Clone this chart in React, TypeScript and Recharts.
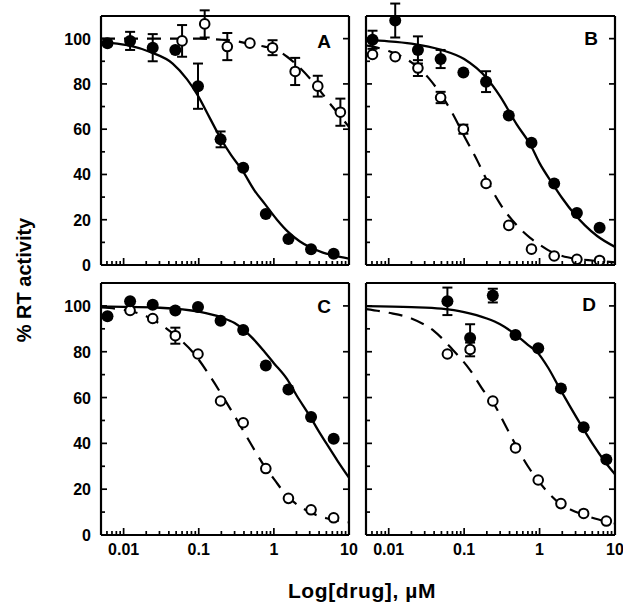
import { ComposedChart, ErrorBar, Line, Scatter, XAxis, YAxis } from "recharts";

// doses (µM), twofold dilutions
const DOSE_11 = [0.0061, 0.0122, 0.0244, 0.0488, 0.0977, 0.1953, 0.3906, 0.7813, 1.5625, 3.125, 6.25];
const DOSE_8 = [0.06, 0.12, 0.24, 0.48, 0.96, 1.92, 3.84, 7.68];
const DOSE_C_OPEN = [0.0122, 0.0244, 0.0488, 0.0977, 0.1953, 0.3906, 0.7813, 1.5625, 3.125, 6.25];

// panel A
const A_FILLED = [98, 99, 96, 95, 79, 55.5, 43, 22.5, 11.5, 7, 5];
const A_FILLED_ERR = [null, 4, 6, null, 10, 3.5, null, null, null, null, null];
const A_OPEN = [99, 106.5, 96.5, 98, 96, 85.5, 79, 67.5];
const A_OPEN_ERR = [7, 6, 6, null, 3.3, 6, 4.6, 6];
const A_SOLID_X = [0.005, 0.0117, 0.023, 0.045, 0.07, 0.094, 0.14, 0.188, 0.27, 0.377, 0.55, 0.757, 1.1, 1.56, 2.2, 3.04, 4.5, 6.27, 10];
const A_SOLID_Y = [98.5, 97, 94, 89, 82, 75.7, 65, 57, 48.5, 42, 33, 27, 20, 14.5, 10.5, 7.8, 5.5, 4.3, 2.8];
const A_DASH_X = [0.005, 0.05, 0.1, 0.2, 0.3, 0.5, 0.75, 1, 1.5, 2, 3, 4, 6, 8, 10];
const A_DASH_Y = [100, 100, 100, 99.5, 99, 97.5, 96.5, 95.5, 92, 88.5, 82.5, 77.5, 70, 65, 61];

// panel B
const B_FILLED = [99.5, 108, 95, 91, 85, 81, 66, 54, 36, 23, 16.5];
const B_FILLED_ERR = [4, 7.5, 6, 4, null, 4.6, null, null, null, null, null];
const B_OPEN = [93, 92, 87, 74, 60, 36, 17.5, 7, 4, 2.5, 2];
const B_OPEN_ERR = [null, null, 3.5, 2.5, 2, null, null, null, null, null, null];
const B_SOLID_X = [0.005, 0.01, 0.02, 0.05, 0.1, 0.2, 0.3, 0.5, 0.76, 1, 1.48, 2, 2.9, 4, 5.8, 10];
const B_SOLID_Y = [99.3, 98.8, 97.8, 95, 91, 82.5, 74.5, 62, 53, 45, 36, 29.5, 22.5, 17.5, 12.8, 8];
const B_DASH_X = [0.005, 0.01, 0.02, 0.035, 0.05, 0.07, 0.1, 0.15, 0.2, 0.3, 0.5, 0.75, 1, 1.5, 2, 3, 5, 10];
const B_DASH_Y = [97, 94.5, 89.5, 82, 75, 67, 57, 46, 37.5, 27, 17.5, 12, 9, 5.5, 4, 2.8, 2, 1.2];

// panel C
const C_FILLED = [95.5, 102, 100.5, 98, 99.5, 93.5, 89.5, 74, 63.5, 51.5, 42];
const C_OPEN = [98, 94.5, 87, 79, 58.5, 49, 29, 16, 11, 7.5];
const C_OPEN_ERR = [null, null, 3.5, null, null, null, null, null, null, null];
const C_SOLID_X = [0.005, 0.01, 0.03, 0.1, 0.2, 0.3, 0.5, 0.75, 1, 1.5, 2, 3, 4, 5, 7, 10];
const C_SOLID_Y = [99.7, 99.6, 99.2, 97.5, 95, 92.5, 86.5, 80, 75, 68, 61, 52, 45, 40, 32.5, 25];
const C_DASH_X = [0.005, 0.01, 0.02, 0.045, 0.09, 0.15, 0.2, 0.3, 0.5, 0.75, 1, 1.5, 2, 3, 5, 7, 10];
const C_DASH_Y = [99.3, 98.3, 95.5, 88, 78.5, 68, 61.5, 52, 39.5, 30, 24.5, 17, 13.5, 10, 7.3, 6.3, 5.5];

// panel D
const D_FILLED = [102, 86, 104.5, 87.3, 81.5, 64, 47, 33];
const D_FILLED_ERR = [6, 6, 3, null, null, null, null, null];
const D_OPEN = [79, 81, 58.5, 38, 24, 13.7, 9.4, 6.1];
const D_OPEN_ERR = [null, 3, null, null, null, null, null, null];
const D_SOLID_X = [0.005, 0.02, 0.05, 0.1, 0.2, 0.3, 0.48, 0.7, 0.92, 1.3, 1.81, 2.6, 3.7, 5, 7.36, 10];
const D_SOLID_Y = [99.9, 99.5, 98.8, 97.3, 94.5, 92, 87.5, 83, 80, 73, 64.5, 55.5, 47, 40, 32, 26.5];
const D_DASH_X = [0.005, 0.01, 0.02, 0.04, 0.07, 0.12, 0.19, 0.234, 0.35, 0.47, 0.7, 0.92, 1.3, 1.81, 2.6, 3.7, 5, 7.36, 10];
const D_DASH_Y = [98.6, 97, 94.5, 89, 81, 72, 62, 58.5, 48, 40, 30, 24.5, 18.5, 14, 11, 9, 7.5, 6, 5];

// axes
const X_MAJOR = [0.01, 0.1, 1, 10];
const X_MINOR = [
  0.006, 0.007, 0.008, 0.009,
  0.02, 0.03, 0.04, 0.05, 0.06, 0.07, 0.08, 0.09,
  0.2, 0.3, 0.4, 0.5, 0.6, 0.7, 0.8, 0.9,
  2, 3, 4, 5, 6, 7, 8, 9,
];
const Y_MAJOR = [0, 20, 40, 60, 80, 100];
const Y_MINOR = [10, 30, 50, 70, 90];

const FONT = "'Liberation Sans', Arial, Helvetica, sans-serif";

type Pt = { x: number; y: number; e?: number };

const toPoints = (xs: number[], ys: number[], errs?: (number | null)[]): Pt[] =>
  xs.map((x, i) => {
    const e = errs ? errs[i] : null;
    return e == null ? { x, y: ys[i] } : { x, y: ys[i], e };
  });

const FilledDot = (p: any) => <circle cx={p.cx} cy={p.cy} r={6} fill="#000" />;
const OpenDot = (p: any) => (
  <circle cx={p.cx} cy={p.cy} r={4.8} fill="#fff" stroke="#000" strokeWidth={2} />
);

const tickStroke = { stroke: "#000", strokeWidth: 1.7 };

const BottomTick = ({ x, y, payload, showLabels }: any) => {
  const major = X_MAJOR.includes(payload.value);
  return (
    <g>
      <line x1={x} x2={x} y1={y} y2={y - (major ? 7 : 4)} {...tickStroke} />
      {showLabels && major && (
        <text x={x} y={y + 20} textAnchor="middle" fontFamily={FONT} fontWeight="bold" fontSize={16} fill="#000">
          {payload.value}
        </text>
      )}
    </g>
  );
};

const TopTick = ({ x, y }: any) => <line x1={x} x2={x} y1={y} y2={y + 7} {...tickStroke} />;

const LeftTick = ({ x, y, payload, showLabels }: any) => {
  const major = Y_MAJOR.includes(payload.value);
  return (
    <g>
      <line x1={x} x2={x + (major ? 6 : 4)} y1={y} y2={y} {...tickStroke} />
      {showLabels && major && (
        <text x={x - 10} y={y + 6} textAnchor="end" fontFamily={FONT} fontWeight="bold" fontSize={16} fill="#000">
          {payload.value}
        </text>
      )}
    </g>
  );
};

const RightTick = ({ x, y }: any) => <line x1={x} x2={x - 6} y1={y} y2={y} {...tickStroke} />;

const frame = { stroke: "#000", strokeWidth: 2.2 };

interface PanelProps {
  plotX: number;
  plotY: number;
  plotW: number;
  plotH: number;
  filled: Pt[];
  open: Pt[];
  solid: Pt[];
  dashed: Pt[];
  xLabels: boolean;
  yLabels: boolean;
}

function Panel({ plotX, plotY, plotW, plotH, filled, open, solid, dashed, xLabels, yLabels }: PanelProps) {
  return (
    <div style={{ position: "absolute", left: plotX - 50, top: plotY - 15 }}>
      <ComposedChart
        width={plotW + 65}
        height={plotH + 55}
        margin={{ top: 5, right: 5, bottom: 10, left: 10 }}
      >
        <XAxis
          xAxisId="main"
          dataKey="x"
          type="number"
          scale="log"
          domain={[0.005, 10]}
          allowDataOverflow
          ticks={[...X_MAJOR, ...X_MINOR]}
          interval={0}
          height={30}
          tickLine={false}
          tickSize={0}
          tickMargin={0}
          axisLine={frame}
          tick={(p: any) => <BottomTick {...p} showLabels={xLabels} />}
        />
        <XAxis
          xAxisId="top"
          orientation="top"
          type="number"
          scale="log"
          domain={[0.005, 10]}
          allowDataOverflow
          ticks={[0.01, 0.1, 1]}
          interval={0}
          height={10}
          tickLine={false}
          tickSize={0}
          tickMargin={0}
          axisLine={frame}
          tick={(p: any) => <TopTick {...p} />}
        />
        <YAxis
          yAxisId="main"
          dataKey="y"
          type="number"
          domain={[0, 110]}
          allowDataOverflow
          ticks={[...Y_MAJOR, ...Y_MINOR]}
          interval={0}
          width={40}
          tickLine={false}
          tickSize={0}
          tickMargin={0}
          axisLine={frame}
          tick={(p: any) => <LeftTick {...p} showLabels={yLabels} />}
        />
        <YAxis
          yAxisId="right"
          orientation="right"
          type="number"
          domain={[0, 110]}
          allowDataOverflow
          ticks={Y_MAJOR}
          interval={0}
          width={10}
          tickLine={false}
          tickSize={0}
          tickMargin={0}
          axisLine={frame}
          tick={(p: any) => <RightTick {...p} />}
        />
        <Line
          xAxisId="main"
          yAxisId="main"
          data={dashed}
          dataKey="y"
          type="monotone"
          stroke="#000"
          strokeWidth={2.2}
          strokeDasharray="14 9"
          dot={false}
          isAnimationActive={false}
        />
        <Line
          xAxisId="main"
          yAxisId="main"
          data={solid}
          dataKey="y"
          type="monotone"
          stroke="#000"
          strokeWidth={2.3}
          dot={false}
          isAnimationActive={false}
        />
        <Scatter
          xAxisId="main"
          yAxisId="main"
          data={open}
          dataKey="y"
          shape={OpenDot}
          isAnimationActive={false}
        >
          <ErrorBar dataKey="e" direction="y" width={5} stroke="#000" strokeWidth={2} />
        </Scatter>
        <Scatter
          xAxisId="main"
          yAxisId="main"
          data={filled}
          dataKey="y"
          shape={FilledDot}
          isAnimationActive={false}
        >
          <ErrorBar dataKey="e" direction="y" width={5} stroke="#000" strokeWidth={2} />
        </Scatter>
      </ComposedChart>
    </div>
  );
}

const PANEL_LABELS = [
  { text: "A", x: 324, y: 48 },
  { text: "B", x: 591, y: 45 },
  { text: "C", x: 324, y: 313 },
  { text: "D", x: 589, y: 311 },
];

export default function App() {
  return (
    <div style={{ position: "absolute", left: 0, top: 0, width: 623, height: 604, background: "#fff" }}>
      <Panel
        plotX={101}
        plotY={16}
        plotW={248}
        plotH={249}
        filled={toPoints(DOSE_11, A_FILLED, A_FILLED_ERR)}
        open={toPoints(DOSE_8, A_OPEN, A_OPEN_ERR)}
        solid={toPoints(A_SOLID_X, A_SOLID_Y)}
        dashed={toPoints(A_DASH_X, A_DASH_Y)}
        xLabels={false}
        yLabels
      />
      <Panel
        plotX={366}
        plotY={16}
        plotW={249}
        plotH={249}
        filled={toPoints(DOSE_11, B_FILLED, B_FILLED_ERR)}
        open={toPoints(DOSE_11, B_OPEN, B_OPEN_ERR)}
        solid={toPoints(B_SOLID_X, B_SOLID_Y)}
        dashed={toPoints(B_DASH_X, B_DASH_Y)}
        xLabels={false}
        yLabels={false}
      />
      <Panel
        plotX={101}
        plotY={283}
        plotW={248}
        plotH={252}
        filled={toPoints(DOSE_11, C_FILLED)}
        open={toPoints(DOSE_C_OPEN, C_OPEN, C_OPEN_ERR)}
        solid={toPoints(C_SOLID_X, C_SOLID_Y)}
        dashed={toPoints(C_DASH_X, C_DASH_Y)}
        xLabels
        yLabels
      />
      <Panel
        plotX={366}
        plotY={283}
        plotW={249}
        plotH={252}
        filled={toPoints(DOSE_8, D_FILLED, D_FILLED_ERR)}
        open={toPoints(DOSE_8, D_OPEN, D_OPEN_ERR)}
        solid={toPoints(D_SOLID_X, D_SOLID_Y)}
        dashed={toPoints(D_DASH_X, D_DASH_Y)}
        xLabels
        yLabels={false}
      />
      <svg
        width={623}
        height={604}
        style={{ position: "absolute", left: 0, top: 0, pointerEvents: "none" }}
      >
        {PANEL_LABELS.map((l) => (
          <text key={l.text} x={l.x} y={l.y} textAnchor="middle" fontFamily={FONT} fontWeight="bold" fontSize={19} fill="#000">
            {l.text}
          </text>
        ))}
        <text
          x={31}
          y={280}
          transform="rotate(-90 31 280)"
          textAnchor="middle"
          fontFamily={FONT}
          fontWeight="bold"
          fontSize={20}
          fill="#000"
        >
          % RT activity
        </text>
        <text
          x={362}
          y={598}
          textAnchor="middle"
          fontFamily={FONT}
          fontWeight="bold"
          fontSize={21}
          letterSpacing={0.6}
          fill="#000"
        >
          Log[drug], µM
        </text>
      </svg>
    </div>
  );
}
